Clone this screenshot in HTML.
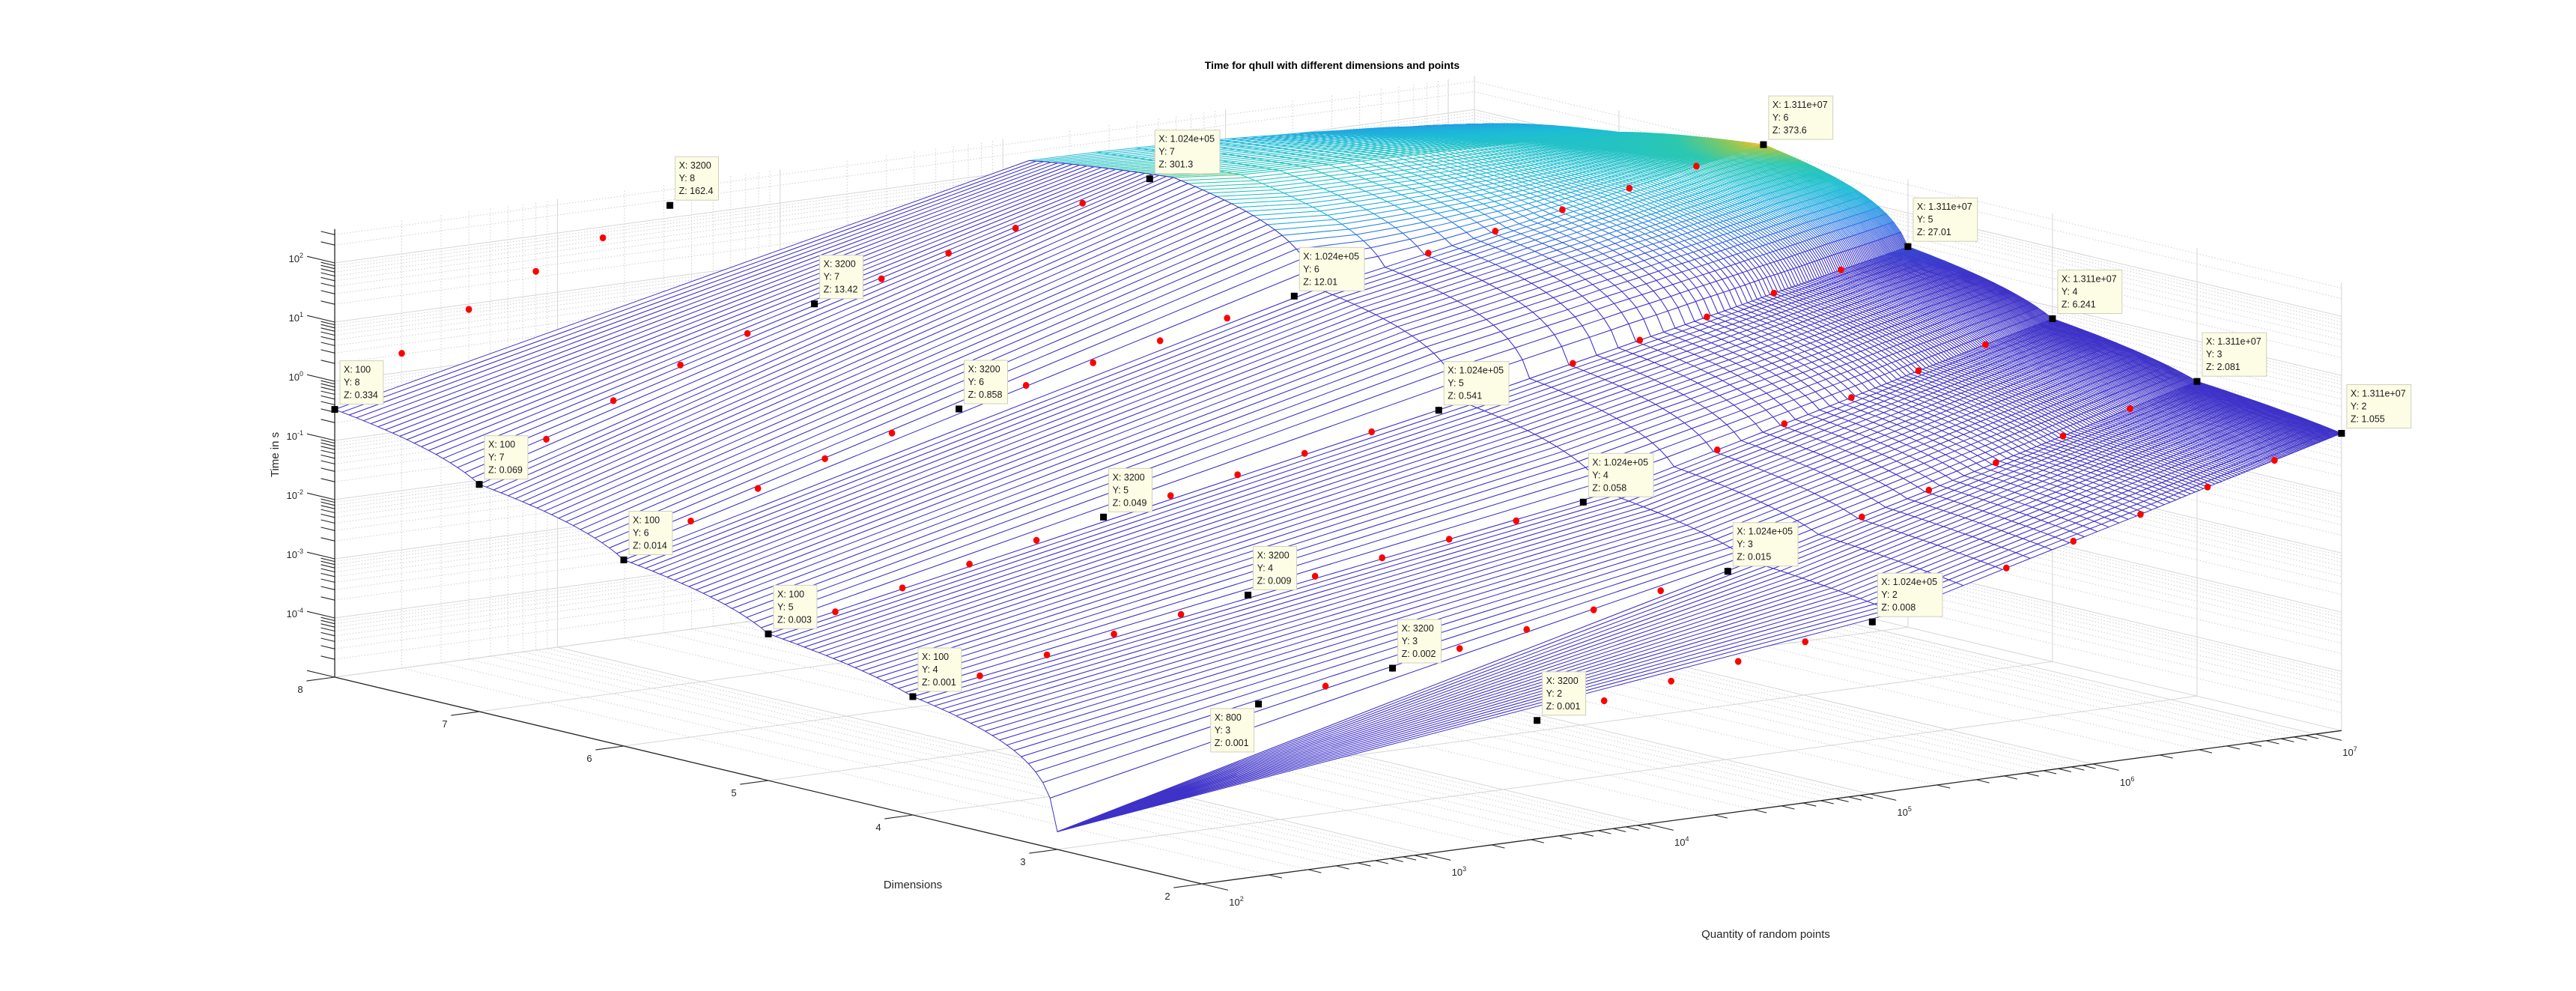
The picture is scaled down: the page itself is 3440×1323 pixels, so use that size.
<!DOCTYPE html>
<html><head><meta charset="utf-8"><title>Time for qhull</title>
<style>
html,body{margin:0;padding:0;background:#fff;}
svg{display:block;font-family:"Liberation Sans",Arial,sans-serif;}
</style></head>
<body>
<svg id="chart" width="3440" height="1323" viewBox="0 0 3440 1323" xmlns="http://www.w3.org/2000/svg">
<rect x="0" y="0" width="3440" height="1323" fill="#ffffff"/>
<text x="1779" y="92" text-anchor="middle" font-size="14" font-weight="bold" fill="#000">Time for qhull with different dimensions and points</text>
<text x="0" y="0" transform="translate(372,607) rotate(-90)" text-anchor="middle" font-size="15" fill="#262626">Time in s</text>
<text x="1219" y="1186" text-anchor="middle" font-size="15" fill="#262626">Dimensions</text>
<text x="2358" y="1252" text-anchor="middle" font-size="15" fill="#262626">Quantity of random points</text>
<g id="grid"></g>
<g id="axes"></g>
<g id="mesh"></g>
<g id="dots"></g>
<g id="tips"></g>
</svg>
<script>
// ---- data (log10 of time in s) per dimension, at x = 100*2^k, k=0..17 ----
const dimsList = [2,3,4,5,6,7,8];
const logT2 = [-3.35,-3.3,-3.2,-3.1,-3.05,-3,-2.82,-2.64,-2.46,-2.28,-2.1,-1.8,-1.49,-1.19,-0.89,-0.58,-0.28,0.023];
const logT3 = [-4.7,-4,-3.5,-3,-2.85,-2.7,-2.52,-2.35,-2.17,-2,-1.82,-1.52,-1.21,-0.91,-0.6,-0.3,0.01,0.318];
const logT4 = [-3,-2.8,-2.6,-2.4,-2.22,-2.05,-1.88,-1.72,-1.56,-1.4,-1.24,-0.95,-0.66,-0.37,-0.08,0.22,0.51,0.795];
const logT5 = [-2.52,-2.3,-2.05,-1.8,-1.55,-1.31,-1.1,-0.9,-0.69,-0.48,-0.267,-0.02,0.22,0.46,0.7,0.95,1.19,1.43];
const logT6 = [-1.854,-1.35,-0.95,-0.6,-0.32,-0.066,0.18,0.41,0.63,0.86,1.08,1.29,1.5,1.72,1.93,2.14,2.36,2.572];
const logT7 = [-1.16,-0.55,-0.05,0.4,0.78,1.128,1.4,1.68,1.95,2.22,2.479,2.35,2.32,2.3,2.28,2.26,2.24,2.2];
const logT8 = [-0.476,0.32,0.91,1.40,1.815,2.21,2.2,2.2,2.18,2.16,2.15,2.15,2.12,2.08,2.02,1.95,1.86,1.74];
const dotStart = [5,3,0,0,0,0,0];
const dotEnd = [17,17,17,17,17,10,5];
// data tips: x, y, label z
const tipX = [100,100,100,100,100,800,3200,3200,3200,3200,3200,3200,3200,102400,102400,102400,102400,102400,102400,13107200,13107200,13107200,13107200,13107200];
const tipY = [8,7,6,5,4,3,2,3,4,5,6,7,8,7,6,5,4,3,2,6,5,4,3,2];
const tipZ = [0.334,0.069,0.014,0.003,0.001,0.001,0.001,0.002,0.009,0.049,0.858,13.42,162.4,301.3,12.01,0.541,0.058,0.015,0.008,373.6,27.01,6.241,2.081,1.055];
const tipXLabel = ["100","100","100","100","100","800","3200","3200","3200","3200","3200","3200","3200","1.024e+05","1.024e+05","1.024e+05","1.024e+05","1.024e+05","1.024e+05","1.311e+07","1.311e+07","1.311e+07","1.311e+07","1.311e+07"];
const tipZLabel = ["0.334","0.069","0.014","0.003","0.001","0.001","0.001","0.002","0.009","0.049","0.858","13.42","162.4","301.3","12.01","0.541","0.058","0.015","0.008","373.6","27.01","6.241","2.081","1.055"];
const zTickDecades = [-4,-3,-2,-1,0,1,2];
const xTickDecades = [2,3,4,5,6,7];
const yTicks = [2,3,4,5,6,7,8];

const NS = "http://www.w3.org/2000/svg";
const rows = [logT2,logT3,logT4,logT5,logT6,logT7,logT8];
const LXMIN = 2, LXMAX = Math.log10(13107200), LZMIN = -5, LZMAX = Math.log10(373.6);
function P(lx, y, lz){
  return [447 + 297.4*(lx-2) + 193*(8-y), 904 - 40*(lx-2) + 46*(8-y) - 79*(lz+5)];
}
function mk(tag, parent, attrs){
  const e = document.createElementNS(NS, tag);
  for (const k in attrs) e.setAttribute(k, attrs[k]);
  parent.appendChild(e); return e;
}
function line(parent, a, b, stroke, w, dash, name){
  const e = mk('line', parent, {x1:a[0].toFixed(1), y1:a[1].toFixed(1), x2:b[0].toFixed(1), y2:b[1].toFixed(1), stroke:stroke, 'stroke-width':w});
  if (dash) e.setAttribute('stroke-dasharray', dash);
  
  
  return e;
}
// ---- grid ----
const grid = document.getElementById('grid');
const MAJ = '#d6d6d6', MIN = '#cfcfcf', DASH = '1.5,2.5';
const xMaj = [], xMin = [];
for (let d=2; d<=7; d++){ xMaj.push(d); for (let m=2;m<=9;m++){ const v=d+Math.log10(m); if (v<=LXMAX) xMin.push(v);} }
const zMaj = [], zMin = [];
for (let d=-5; d<=2; d++){ zMaj.push(d); for (let m=2;m<=9;m++){ const v=d+Math.log10(m); if (v<=LZMAX) zMin.push(v);} }
xMin.forEach(v=>{ line(grid,P(v,2,LZMIN),P(v,8,LZMIN),MIN,1,DASH,'floor-minor-gridline'); line(grid,P(v,8,LZMIN),P(v,8,LZMAX),MIN,1,DASH,'wall-minor-gridline'); });
xMaj.forEach(v=>{ line(grid,P(v,2,LZMIN),P(v,8,LZMIN),MAJ,1,null,'floor-gridline'); line(grid,P(v,8,LZMIN),P(v,8,LZMAX),MAJ,1,null,'wall-gridline'); });
zMin.forEach(v=>{ line(grid,P(LXMIN,8,v),P(LXMAX,8,v),MIN,1,DASH,'wall-minor-gridline'); line(grid,P(LXMAX,8,v),P(LXMAX,2,v),MIN,1,DASH,'wall-minor-gridline'); });
zMaj.forEach(v=>{ line(grid,P(LXMIN,8,v),P(LXMAX,8,v),MAJ,1,null,'wall-gridline'); line(grid,P(LXMAX,8,v),P(LXMAX,2,v),MAJ,1,null,'wall-gridline'); });
yTicks.forEach(y=>{ line(grid,P(LXMIN,y,LZMIN),P(LXMAX,y,LZMIN),MAJ,1,null,'floor-gridline'); line(grid,P(LXMAX,y,LZMIN),P(LXMAX,y,LZMAX),MAJ,1,null,'wall-gridline'); });
// ---- axes ----
const axes = document.getElementById('axes');
const AX = '#262626';
line(axes,P(2,8,LZMIN),P(2,8,LZMAX),AX,1.3,null,'z-axis-line');
line(axes,P(2,8,LZMIN),P(2,2,LZMIN),AX,1.3,null,'y-axis-line');
line(axes,P(2,2,LZMIN),P(LXMAX,2,LZMIN),AX,1.3,null,'x-axis-line');
function tick(p, dx, dy, len, name){ line(axes,p,[p[0]+dx*len,p[1]+dy*len],AX,1.1,null,name); }
zMaj.forEach(v=>tick(P(2,8,v),-0.973,-0.232,38,'z-major-tick'));
zMin.forEach(v=>tick(P(2,8,v),-0.973,-0.232,19,'z-minor-tick'));
xMaj.forEach(v=>tick(P(v,2,LZMIN),0.973,0.232,36,'x-major-tick'));
xMin.forEach(v=>tick(P(v,2,LZMIN),0.973,0.232,18,'x-minor-tick'));
yTicks.forEach(v=>tick(P(2,v,LZMIN),-0.991,0.133,38,'y-major-tick'));
function powLabel(x, y, exp, anchor, name){
  const t = mk('text', axes, {x:x.toFixed(1), y:y.toFixed(1), 'font-size':13, fill:AX, 'text-anchor':anchor});
  
  
  t.appendChild(document.createTextNode('10'));
  const s = mk('tspan', t, {dy:-6, 'font-size':9});
  s.textContent = String(exp);
  return t;
}
zTickDecades.forEach(d=>{ const p=P(2,8,d); powLabel(p[0]-42,p[1]-1,d,'end','z-tick-label'); });
xTickDecades.forEach(d=>{ const p=P(d,2,LZMIN); powLabel(p[0]+46,p[1]+29,d,'middle','x-tick-label'); });
yTicks.forEach(v=>{
  const p=P(2,v,LZMIN);
  const t = mk('text', axes, {x:(p[0]-46).toFixed(1), y:(p[1]+21).toFixed(1), 'font-size':13, fill:AX, 'text-anchor':'middle'});
  
  
  t.textContent = String(v);
});
// ---- surface ----
function rowZ(r, x){
  const row = rows[r];
  const kf = Math.log2(x/100);
  let k = Math.floor(kf); if (k<0) k=0; if (k>16) k=16;
  const x0 = 100*Math.pow(2,k), x1 = 100*Math.pow(2,k+1);
  const f = Math.min(1, Math.max(0, (x-x0)/(x1-x0)));
  return Math.pow(10,row[k])*(1-f) + Math.pow(10,row[k+1])*f;
}
function surfZ(x, y){
  let r = Math.floor(y-2); if (r>5) r=5; if (r<0) r=0;
  const f = (y-2) - r;
  const z = rowZ(r,x)*(1-f) + rowZ(r+1,x)*f;
  return Math.log10(Math.max(z, 1e-5));
}
const cStops = [[0,[62,50,200]],[15,[62,50,200]],[45,[48,110,230]],[90,[32,165,226]],[150,[30,190,212]],[250,[44,200,176]],[320,[140,200,90]],[374,[245,190,45]]];
function zColor(z){
  if (z<=cStops[0][0]) return 'rgb(62,50,200)';
  for (let i=1;i<cStops.length;i++){
    if (z<=cStops[i][0]){
      const a=cStops[i-1], b=cStops[i], f=(z-a[0])/(b[0]-a[0]);
      return 'rgb('+[0,1,2].map(c=>Math.round(a[1][c]+(b[1][c]-a[1][c])*f)).join(',')+')';
    }
  }
  return 'rgb(245,190,45)';
}
const NX = 100, NY = 120;
const gx = [], gy = [];
for (let j=0;j<=NX;j++) gx.push(100 + j*(13107200-100)/NX);
for (let i=0;i<=NY;i++) gy.push(2 + i*6/NY);
const G = [];
for (let i=0;i<=NY;i++){
  const r=[];
  for (let j=0;j<=NX;j++){
    const yy = (j===0 && gy[i]<3) ? 3 : gy[i];
    const lz=surfZ(gx[j],yy);
    r.push({lz:lz, p:P(Math.log10(gx[j]),yy,lz)});
  }
  G.push(r);
}
const cells = [];
for (let i=0;i<NY;i++) for (let j=0;j<NX;j++){
  const lxc = Math.log10((gx[j]+gx[j+1])/2), yc = (gy[i]+gy[i+1])/2;
  const depth = -40*(lxc-2) + 46*(8-yc);
  cells.push([depth,i,j]);
}
cells.sort((a,b)=>a[0]-b[0]);
const mesh = document.getElementById('mesh');
cells.forEach(c=>{
  const i=c[1], j=c[2];
  const q=[G[i][j],G[i][j+1],G[i+1][j+1],G[i+1][j]];
  const zc = Math.pow(10, G[i][j].lz);
  const poly = mk('polygon', mesh, {points:q.map(v=>v.p[0].toFixed(1)+','+v.p[1].toFixed(1)).join(' '), fill:'#ffffff', stroke:zColor(zc), 'stroke-width':1, 'stroke-linejoin':'round'});
  
  
});
// ---- data points ----
const dots = document.getElementById('dots');
for (let r=0;r<rows.length;r++){
  for (let k=dotStart[r]; k<=dotEnd[r]; k++){
    const p = P(Math.log10(100*Math.pow(2,k)), dimsList[r], rows[r][k]);
    const c = mk('ellipse', dots, {cx:p[0].toFixed(1), cy:p[1].toFixed(1), rx:4.3, ry:4.6, fill:'#ff0000'});
    
    
  }
}
// ---- data tips ----
const tips = document.getElementById('tips');
for (let t=0;t<tipX.length;t++){
  const p = P(Math.log10(tipX[t]), tipY[t], Math.log10(tipZ[t]));
  const g = mk('g', tips, {});
  
  
  const lines = ['X: '+tipXLabel[t], 'Y: '+tipY[t], 'Z: '+tipZLabel[t]];
  const box = mk('rect', g, {fill:'#fdfde6', stroke:'#cfcfbf', 'stroke-width':1});
  
  
  const texts = lines.map(s=>{ const e = mk('text', g, {'font-size':12.5, fill:'#1a1a1a'}); e.textContent = s;
    
    
    return e; });
  let w = 0; texts.forEach(e=>{ try { w = Math.max(w, e.getComputedTextLength()); } catch(err) { w = Math.max(w, e.textContent.length*6.6); } });
  if (!w) w = Math.max.apply(null, lines.map(s=>s.length*6.6));
  const bw = w + 12, bh = 58;
  let bx, by;
  if (tipX[t]===800){ bx = p[0]-6-bw; by = p[1]+6; } else { bx = p[0]+7; by = p[1]-7-bh; }
  box.setAttribute('x', bx.toFixed(1)); box.setAttribute('y', by.toFixed(1));
  box.setAttribute('width', bw.toFixed(1)); box.setAttribute('height', bh);
  texts.forEach((e,n)=>{ e.setAttribute('x', (bx+5).toFixed(1)); e.setAttribute('y', (by+16+n*17).toFixed(1)); });
  const m = mk('rect', g, {x:(p[0]-4.5).toFixed(1), y:(p[1]-4.5).toFixed(1), width:9, height:9, fill:'#000'});
  
  
}
</script>
</body></html>
